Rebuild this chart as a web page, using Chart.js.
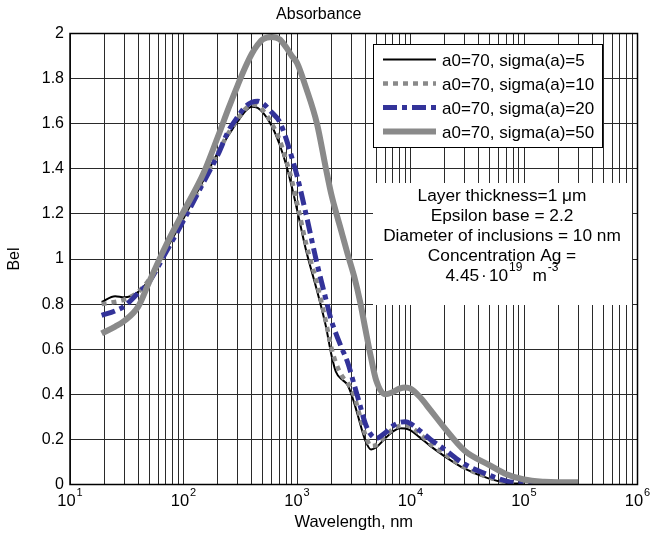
<!DOCTYPE html>
<html>
<head>
<meta charset="utf-8">
<script src="https://cdn.jsdelivr.net/npm/chart.js@4.4.0/dist/chart.umd.min.js"></script>
<style>
body { margin: 0; background: #fff; }
canvas { display: block; }
</style>
</head>
<body>
<canvas id="chart" width="652" height="541"></canvas>
<script>
const FONT = "'Liberation Sans', Arial, Helvetica, sans-serif";

// wavelength, nm
const wavelength = [19, 25, 30, 40, 50, 70, 100, 150, 200, 250,
    300, 350, 400, 450, 500, 600, 700, 800, 900, 1000,
    1200, 1500, 1800, 2000, 2200, 2500, 2800, 3200, 3600, 4000,
    4500, 5000, 6000, 7000, 8000, 9000, 10000, 12000, 15000, 20000,
    30000, 50000, 70000, 100000, 150000, 200000, 300000];

const sigma5 = [0.81, 0.835, 0.83, 0.855, 0.91, 1.04, 1.18, 1.35, 1.47, 1.55,
    1.61, 1.655, 1.675, 1.67, 1.65, 1.59, 1.51, 1.42, 1.32, 1.22,
    1.04, 0.86, 0.70, 0.58, 0.50, 0.465, 0.44, 0.36, 0.27, 0.195,
    0.155, 0.165, 0.205, 0.235, 0.25, 0.248, 0.24, 0.21, 0.17, 0.125,
    0.07, 0.025, 0.008, 0.003, null, null, null];

const sigma10 = [0.80, 0.81, 0.82, 0.855, 0.91, 1.04, 1.18, 1.35, 1.47, 1.56,
    1.62, 1.665, 1.685, 1.68, 1.66, 1.60, 1.53, 1.44, 1.35, 1.25,
    1.07, 0.89, 0.72, 0.61, 0.54, 0.48, 0.45, 0.39, 0.30, 0.22,
    0.17, 0.175, 0.215, 0.245, 0.26, 0.262, 0.255, 0.225, 0.18, 0.135,
    0.075, 0.03, 0.01, 0.004, null, null, null];

const sigma20 = [0.75, 0.77, 0.79, 0.85, 0.90, 1.03, 1.17, 1.34, 1.46, 1.57,
    1.63, 1.675, 1.695, 1.70, 1.69, 1.65, 1.61, 1.535, 1.45, 1.37,
    1.20, 0.98, 0.82, 0.73, 0.67, 0.60, 0.54, 0.44, 0.35, 0.27,
    0.22, 0.205, 0.23, 0.26, 0.275, 0.278, 0.27, 0.24, 0.20, 0.155,
    0.09, 0.04, 0.015, 0.005, 0.001, null, null];

const sigma50 = [0.67, 0.70, 0.725, 0.79, 0.90, 1.06, 1.21, 1.38, 1.54, 1.67,
    1.77, 1.85, 1.91, 1.95, 1.975, 1.985, 1.975, 1.94, 1.90, 1.87,
    1.76, 1.60, 1.40, 1.29, 1.21, 1.11, 1.02, 0.92, 0.81, 0.69,
    0.56, 0.46, 0.40, 0.41, 0.425, 0.43, 0.425, 0.39, 0.33, 0.25,
    0.15, 0.085, 0.045, 0.022, 0.012, 0.01, 0.01];

const seriesLabels = ['a0=70, sigma(a)=5', 'a0=70, sigma(a)=10', 'a0=70, sigma(a)=20', 'a0=70, sigma(a)=50'];
const decadeExps = [1, 2, 3, 4, 5, 6];
const noteLines = ['Layer thickness=1 \u03bcm', 'Epsilon base = 2.2', 'Diameter of inclusions = 10 nm', 'Concentration Ag ='];

const GREY = '#8a8a8a';
const BLUE = '#333399';

function points(vals) {
    let out = [];
    for (let i = 0; i < wavelength.length; ++i) {
        if (vals[i] !== null) out.push({x: wavelength[i], y: vals[i]});
    }
    return out;
}

// all log gridlines: 1..9 x 10^n
function logTicks() {
    let t = [];
    for (let e = 1; e < 6; ++e)
        for (let m = 1; m < 10; ++m) t.push({value: m * Math.pow(10, e)});
    t.push({value: 1e6});
    return t;
}

// text with superscript pieces, centred on cx
function drawRich(ctx, parts, cx, y, size) {
    let total = 0;
    for (let p of parts) {
        ctx.font = (p.sup ? Math.round(size * 0.68) : size) + 'px ' + FONT;
        p.w = ctx.measureText(p.t).width;
        total += p.w + (p.gap || 0);
    }
    let x = cx - total / 2;
    ctx.textAlign = 'left';
    for (let p of parts) {
        x += p.gap || 0;
        ctx.font = (p.sup ? Math.round(size * 0.68) : size) + 'px ' + FONT;
        ctx.fillText(p.t, x, p.sup ? y - size * 0.6 : y);
        x += p.w;
    }
}

const styles = [
    {color: '#000', width: 2, dash: []},
    {color: GREY, width: 4.5, dash: [5, 5]},
    {color: BLUE, width: 5, dash: [14, 5, 5, 5]},
    {color: GREY, width: 6, dash: []}
];

const overlay = {
    id: 'overlay',
    afterDatasetsDraw(chart) {
        const ctx = chart.ctx, a = chart.chartArea;
        ctx.save();
        // box round the plot
        ctx.strokeStyle = '#000';
        ctx.lineWidth = 1.5;
        ctx.strokeRect(a.left, a.top, a.right - a.left, a.bottom - a.top);

        // legend
        ctx.fillStyle = '#fff';
        ctx.fillRect(373, 44, 229, 103);
        ctx.lineWidth = 1;
        ctx.strokeRect(373.5, 44.5, 229, 103);
        const rows = [59.5, 83.5, 107.5, 131.5];
        for (let i = 0; i < 4; ++i) {
            ctx.beginPath();
            ctx.strokeStyle = styles[i].color;
            ctx.lineWidth = styles[i].width;
            ctx.setLineDash(styles[i].dash);
            ctx.moveTo(383, rows[i]);
            ctx.lineTo(436, rows[i]);
            ctx.stroke();
            ctx.setLineDash([]);
            ctx.fillStyle = '#000';
            ctx.font = '17px ' + FONT;
            ctx.textAlign = 'left';
            ctx.textBaseline = 'alphabetic';
            ctx.fillText(seriesLabels[i], 442, rows[i] + 6);
        }

        // note box
        ctx.fillStyle = '#fff';
        ctx.fillRect(373, 183, 259, 122);
        ctx.fillStyle = '#000';
        ctx.textAlign = 'center';
        ctx.font = '17.3px ' + FONT;
        for (let i = 0; i < noteLines.length; ++i) {
            ctx.fillText(noteLines[i], 502, 201 + i * 20);
        }
        drawRich(ctx, [
            {t: '4.45'}, {t: '\u00b7', gap: 2}, {t: '10', gap: 2}, {t: '19', sup: true, gap: 1},
            {t: 'm', gap: 10}, {t: '-3', sup: true, gap: 1}
        ], 502, 281, 17.3);

        // decade labels on x
        const xs = chart.scales.x;
        ctx.fillStyle = '#000';
        for (let e of decadeExps) {
            const px = xs.getPixelForValue(Math.pow(10, e));
            drawRich(ctx, [{t: '10'}, {t: String(e), sup: true, gap: 1}], px, 506, 16.5);
        }
        ctx.restore();
    }
};

const datasets = [sigma5, sigma10, sigma20, sigma50].map((vals, i) => ({
    label: seriesLabels[i],
    data: points(vals),
    borderColor: styles[i].color,
    borderWidth: styles[i].width,
    borderDash: styles[i].dash,
    pointRadius: 0,
    fill: false,
    cubicInterpolationMode: 'monotone',
    order: 4 - i
}));

new Chart(document.getElementById('chart'), {
    type: 'line',
    data: {datasets: datasets},
    plugins: [overlay],
    options: {
        responsive: false,
        animation: false,
        layout: {padding: {left: 0, right: 14.5, top: 0, bottom: 0}},
        plugins: {
            legend: {display: false},
            tooltip: {enabled: false},
            title: {
                display: true,
                text: 'Absorbance',
                color: '#000',
                font: {family: FONT, size: 16, weight: 'normal'},
                padding: {top: 5, bottom: 9.3}
            }
        },
        scales: {
            x: {
                type: 'logarithmic',
                min: 10,
                max: 1e6,
                afterBuildTicks: s => { s.ticks = logTicks(); },
                afterFit: s => { s.height = 56.5; },
                ticks: {display: false, autoSkip: false},
                grid: {color: '#2a2a2a', drawTicks: false},
                border: {display: false},
                title: {
                    display: true,
                    text: 'Wavelength, nm',
                    color: '#000',
                    font: {family: FONT, size: 16.5},
                    padding: {top: 0, bottom: 8.4}
                }
            },
            y: {
                min: 0,
                max: 2,
                afterFit: s => { s.width = 70; },
                ticks: {
                    stepSize: 0.2,
                    padding: 6,
                    color: '#000',
                    font: {family: FONT, size: 16},
                    callback: v => String(Math.round(v * 10) / 10)
                },
                grid: {color: '#2a2a2a', drawTicks: false},
                border: {display: false},
                title: {
                    display: true,
                    text: 'Bel',
                    color: '#000',
                    font: {family: FONT, size: 16},
                    padding: {top: 5.4, bottom: 0}
                }
            }
        }
    }
});
</script>
</body>
</html>
